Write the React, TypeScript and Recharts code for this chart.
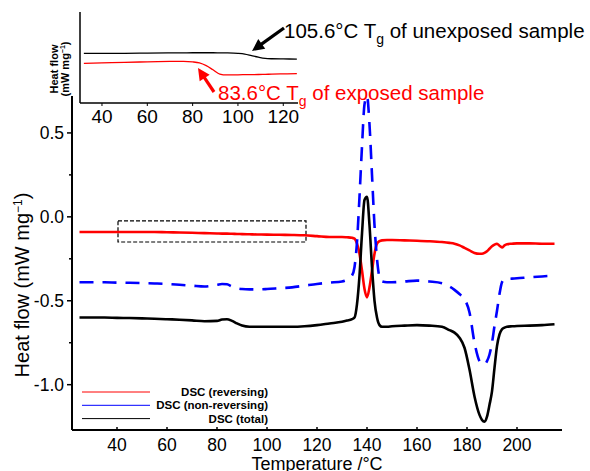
import { LineChart, Line, XAxis, YAxis, ReferenceArea, Legend } from 'recharts'

const FONT = '"Liberation Sans", Arial, Helvetica, sans-serif'

// main DSC curves (temperature in °C, heat flow in mW/mg)
const temps = [
  25, 30, 35, 40, 45, 50, 55, 60, 65, 70, 75, 80, 82, 84, 86, 88, 90, 93, 96, 100,
  105, 110, 115, 120, 125, 130, 132, 134, 135, 136, 137, 138, 139, 140, 141, 142, 143, 144, 145, 146,
  148, 150, 155, 160, 165, 170, 173, 175, 177, 179, 181, 183, 185, 186, 187, 188, 189, 190, 191, 192,
  193, 194, 195, 196, 198, 200, 205, 210, 215,
]
const reversing = [
  -0.09, -0.09, -0.09, -0.09, -0.09, -0.09, -0.09, -0.092, -0.093, -0.095, -0.097, -0.099, -0.1, -0.1, -0.101, -0.102, -0.103, -0.104, -0.105, -0.106,
  -0.107, -0.108, -0.11, -0.115, -0.12, -0.12, -0.122, -0.125, -0.13, -0.16, -0.22, -0.32, -0.43, -0.48, -0.42, -0.32, -0.22, -0.16, -0.145, -0.14,
  -0.138, -0.138, -0.14, -0.142, -0.145, -0.15, -0.155, -0.16, -0.17, -0.185, -0.2, -0.215, -0.22, -0.22, -0.215, -0.205, -0.19, -0.175, -0.165, -0.16,
  -0.172, -0.182, -0.17, -0.163, -0.16, -0.158, -0.158, -0.16, -0.16,
]
const nonReversing = [
  -0.39, -0.39, -0.39, -0.392, -0.393, -0.395, -0.397, -0.4, -0.405, -0.41, -0.415, -0.405, -0.4, -0.402, -0.415, -0.425, -0.43, -0.432, -0.432, -0.43,
  -0.425, -0.42, -0.41, -0.4, -0.392, -0.385, -0.375, -0.35, -0.3, -0.15, 0.12, 0.42, 0.67, 0.72, 0.55, 0.25, -0.05, -0.25, -0.36, -0.385,
  -0.39, -0.39, -0.385, -0.38, -0.385, -0.395, -0.415, -0.435, -0.46, -0.49, -0.57, -0.75, -0.86, -0.875, -0.88, -0.86, -0.82, -0.75, -0.65, -0.56,
  -0.46, -0.39, -0.372, -0.37, -0.368, -0.366, -0.36, -0.355, -0.35,
]
const total = [
  -0.6, -0.6, -0.6, -0.602, -0.603, -0.605, -0.607, -0.61, -0.613, -0.617, -0.622, -0.62, -0.612, -0.61, -0.62, -0.635, -0.648, -0.655, -0.655, -0.655,
  -0.655, -0.655, -0.652, -0.645, -0.635, -0.625, -0.618, -0.61, -0.6, -0.52, -0.35, -0.1, 0.1, 0.12, -0.05, -0.3, -0.5, -0.6, -0.645, -0.655,
  -0.655, -0.652, -0.648, -0.645, -0.648, -0.655, -0.675, -0.69, -0.72, -0.78, -0.91, -1.07, -1.18, -1.21, -1.22, -1.19, -1.12, -1.04, -0.9, -0.77,
  -0.7, -0.67, -0.66, -0.655, -0.652, -0.65, -0.648, -0.645, -0.64,
]

// inset: glass transition region, arbitrary units
const insetTemps = [32, 40, 50, 60, 70, 76, 80, 83, 86, 89, 92, 95, 100, 103, 106, 109, 112, 115, 120, 126]
const insetUnexposed = [
  0.545, 0.545, 0.546, 0.548, 0.55, 0.551, 0.552, 0.552, 0.552, 0.552, 0.551, 0.55, 0.545, 0.537, 0.52, 0.503, 0.49, 0.486, 0.484, 0.483,
]
const insetExposed = [
  0.436, 0.44, 0.447, 0.452, 0.457, 0.458, 0.452, 0.44, 0.41, 0.365, 0.318, 0.308, 0.31, 0.311, 0.312, 0.313, 0.315, 0.317, 0.32, 0.322,
]

const xTicks = [40, 60, 80, 100, 120, 140, 160, 180, 200]
const yTicks = [-1, -0.75, -0.5, -0.25, 0, 0.25, 0.5]
const insetXTicks = [40, 60, 80, 100, 120]

// dashed box marking the zoomed region
const boxT = [40.4, 115.6]
const boxHF = [-0.15, -0.024]

const legendItems = [
  { label: 'DSC (reversing)', color: '#ff0000' },
  { label: 'DSC (non-reversing)', color: '#0000ff' },
  { label: 'DSC (total)', color: '#000000' },
]

const mainData = temps.map((t, i) => ({
  t,
  rev: reversing[i],
  non: nonReversing[i],
  tot: total[i],
}))

const insetData = insetTemps.map((t, i) => ({
  t,
  unexp: insetUnexposed[i],
  exp: insetExposed[i],
}))

// eslint-disable-next-line @typescript-eslint/no-explicit-any
function MainYTick(props: any) {
  const { x, y, payload } = props
  const v = payload.value
  const major = Math.abs(v * 2 - Math.round(v * 2)) < 1e-6
  return (
    <g>
      <line x1={x - (major ? 5 : 3)} x2={x} y1={y} y2={y} stroke="#000" strokeWidth={1.5} />
      {major && (
        <text x={x - 8} y={y} dy={6.3} textAnchor="end" fontSize={17.5} fontFamily={FONT} fill="#000">
          {v.toFixed(1)}
        </text>
      )}
    </g>
  )
}

// eslint-disable-next-line @typescript-eslint/no-explicit-any
function MainXTick(props: any) {
  const { x, y, payload } = props
  return (
    <g>
      <line x1={x} x2={x} y1={y - 3} y2={y} stroke="#000" strokeWidth={1.5} />
      <text x={x} y={y} dy={20.5} textAnchor="middle" fontSize={17.5} fontFamily={FONT} fill="#000">
        {payload.value}
      </text>
    </g>
  )
}

// eslint-disable-next-line @typescript-eslint/no-explicit-any
function InsetXTick(props: any) {
  const { x, y, payload } = props
  return (
    <g>
      <line x1={x} x2={x} y1={y} y2={y + 3} stroke="#000" strokeWidth={1} />
      <text x={x} y={y} dy={20} textAnchor="middle" fontSize={19} fontFamily={FONT} fill="#000">
        {payload.value}
      </text>
    </g>
  )
}

function LegendBox() {
  return (
    <svg width={280} height={50} style={{ display: 'block' }}>
      {legendItems.map((item, i) => {
        const cy = 12 + i * 13.3
        return (
          <g key={item.label}>
            <line x1={82} x2={150} y1={cy} y2={cy} stroke={item.color} strokeWidth={1} />
            <text
              x={268}
              y={cy + 4}
              textAnchor="end"
              fontSize={11.5}
              fontWeight="bold"
              fontFamily={FONT}
              fill="#000"
            >
              {item.label}
            </text>
          </g>
        )
      })}
    </svg>
  )
}

function Arrow({ from, to, color }: { from: [number, number]; to: [number, number]; color: string }) {
  const dx = to[0] - from[0]
  const dy = to[1] - from[1]
  const len = Math.hypot(dx, dy)
  const ux = dx / len
  const uy = dy / len
  const head = 12
  const half = 6
  const bx = to[0] - ux * head
  const by = to[1] - uy * head
  const pts = `${to[0]},${to[1]} ${bx + uy * half},${by - ux * half} ${bx - uy * half},${by + ux * half}`
  return (
    <g>
      <line x1={from[0]} y1={from[1]} x2={bx + ux * 2} y2={by + uy * 2} stroke={color} strokeWidth={3.2} />
      <polygon points={pts} fill={color} />
    </g>
  )
}

export default function App() {
  return (
    <div style={{ position: 'absolute', left: 0, top: 0, width: 590, height: 471, background: '#fff' }}>
      <LineChart width={590} height={471} data={mainData} margin={{ top: 96, right: 28, bottom: 0, left: 0 }}>
        <XAxis
          type="number"
          dataKey="t"
          domain={[22, 218]}
          ticks={xTicks}
          interval={0}
          height={41}
          tickSize={0}
          tickMargin={0}
          tickLine={false}
          tick={<MainXTick />}
          axisLine={{ stroke: '#000', strokeWidth: 2 }}
        />
        <YAxis
          type="number"
          domain={[-1.27, 0.72]}
          ticks={yTicks}
          interval={0}
          width={72}
          tickSize={0}
          tickMargin={0}
          tickLine={false}
          tick={<MainYTick />}
          axisLine={{ stroke: '#000', strokeWidth: 2 }}
        />
        <ReferenceArea
          x1={boxT[0]}
          x2={boxT[1]}
          y1={boxHF[0]}
          y2={boxHF[1]}
          fill="none"
          fillOpacity={0}
          stroke="#000"
          strokeOpacity={1}
          strokeWidth={1.2}
          strokeDasharray="4 2"
        />
        <Line type="monotone" dataKey="rev" stroke="#ff0000" strokeWidth={2.6} dot={false} isAnimationActive={false} />
        <Line
          type="monotone"
          dataKey="non"
          stroke="#0000ff"
          strokeWidth={2.6}
          strokeDasharray="14 9"
          dot={false}
          isAnimationActive={false}
        />
        <Line type="monotone" dataKey="tot" stroke="#000000" strokeWidth={2.6} dot={false} isAnimationActive={false} />
        <Legend
          layout="vertical"
          align="center"
          verticalAlign="middle"
          content={<LegendBox />}
          wrapperStyle={{ position: 'absolute', left: 0, top: 380, width: 280, height: 50 }}
        />
      </LineChart>

      <div style={{ position: 'absolute', left: 0, top: 0 }}>
        <LineChart width={300} height={130} data={insetData} margin={{ top: 12, right: 2, bottom: 0, left: 0 }}>
          <XAxis
            type="number"
            dataKey="t"
            domain={[30.3, 126.5]}
            ticks={insetXTicks}
            interval={0}
            height={27}
            tickSize={0}
            tickMargin={0}
            tickLine={false}
            tick={<InsetXTick />}
            axisLine={{ stroke: '#000', strokeWidth: 1.5 }}
          />
          <YAxis
            type="number"
            domain={[0, 1]}
            width={80}
            tick={false}
            tickLine={false}
            axisLine={{ stroke: '#000', strokeWidth: 1.5 }}
          />
          <Line type="monotone" dataKey="unexp" stroke="#000" strokeWidth={1.3} dot={false} isAnimationActive={false} />
          <Line type="monotone" dataKey="exp" stroke="#ff0000" strokeWidth={1.3} dot={false} isAnimationActive={false} />
        </LineChart>
      </div>

      <svg
        width={590}
        height={471}
        style={{ position: 'absolute', left: 0, top: 0, pointerEvents: 'none' }}
        fontFamily={FONT}
      >
        {/* axis titles */}
        <text x={317} y={470} textAnchor="middle" fontSize={18} fill="#000">
          Temperature /°C
        </text>
        <text transform="translate(29,285) rotate(-90)" textAnchor="middle" fontSize={20} fill="#000">
          Heat flow (mW mg<tspan dy={-7} fontSize={12}>−1</tspan>
          <tspan dy={7}>)</tspan>
        </text>

        {/* inset y title */}
        <text transform="translate(58,69) rotate(-90)" textAnchor="middle" fontSize={11} fontWeight="bold" fill="#000">
          Heat flow
        </text>
        <text transform="translate(69,69) rotate(-90)" textAnchor="middle" fontSize={11} fontWeight="bold" fill="#000">
          (mW mg<tspan dy={-4} fontSize={7}>−1</tspan>
          <tspan dy={4}>)</tspan>
        </text>

        {/* Tg annotations */}
        <text x={284} y={38} fontSize={20.5} fill="#000">
          105.6°C T<tspan dy={6} fontSize={14}>g</tspan>
          <tspan dy={-6}> of unexposed sample</tspan>
        </text>
        <Arrow from={[284, 28]} to={[252, 51]} color="#000" />

        <text x={218} y={100} fontSize={20.5} fill="#ff0000">
          83.6°C T<tspan dy={6} fontSize={14}>g</tspan>
          <tspan dy={-6}> of exposed sample</tspan>
        </text>
        <Arrow from={[214, 92]} to={[198, 68]} color="#ff0000" />
      </svg>
    </div>
  )
}
